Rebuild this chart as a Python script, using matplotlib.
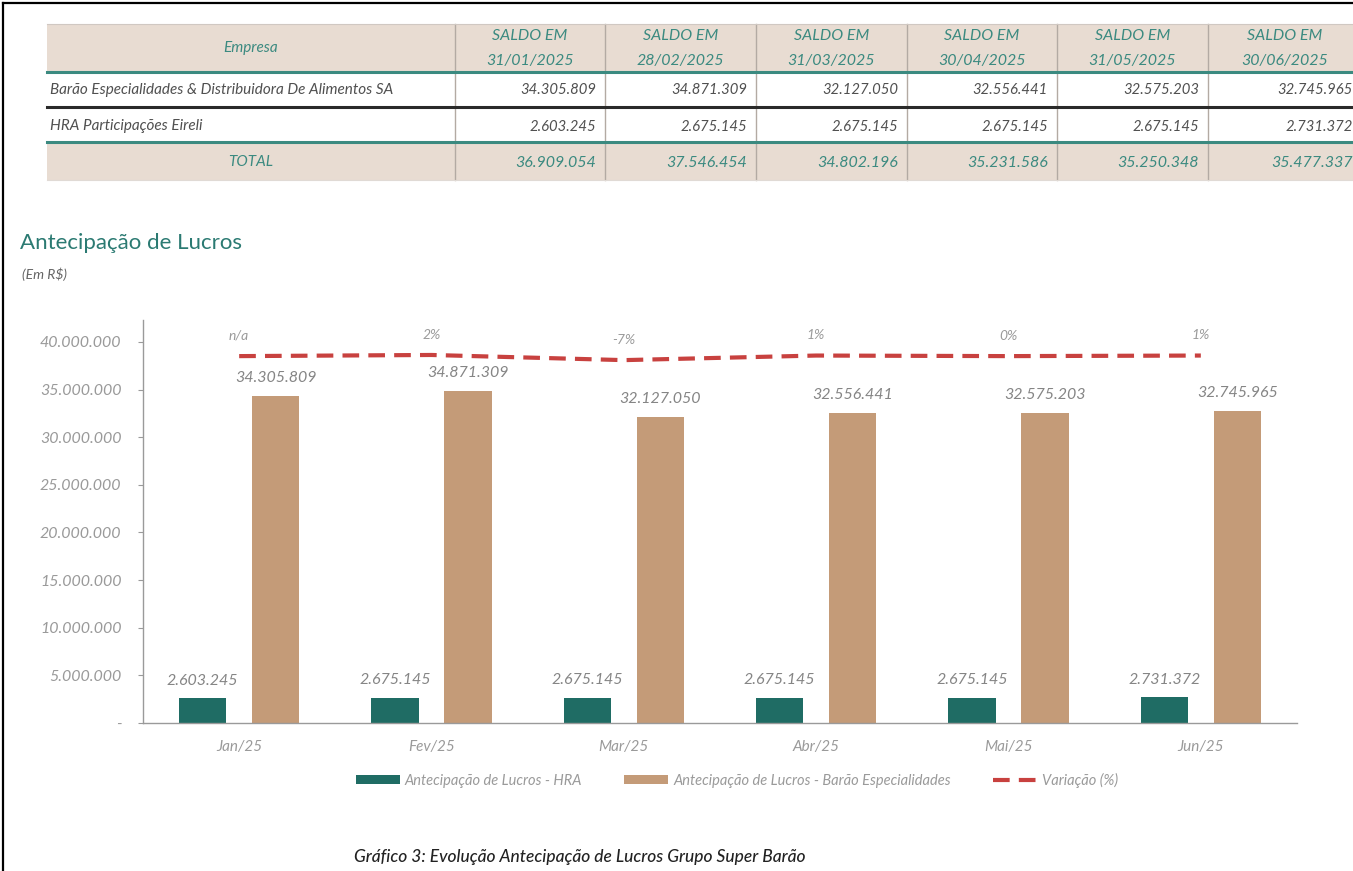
#plot.py
#antecipacao de lucros - table + bar chart
import matplotlib
matplotlib.use("Agg")
import matplotlib.pyplot as plt
from matplotlib.patches import Rectangle
import numpy as np

plt.rcParams['font.family'] = ['Lato', 'DejaVu Sans']

#data
meses = ["Jan/25", "Fev/25", "Mar/25", "Abr/25", "Mai/25", "Jun/25"]
datas = ["31/01/2025", "28/02/2025", "31/03/2025", "30/04/2025", "31/05/2025", "30/06/2025"]
empresas = ["Barão Especialidades & Distribuidora De Alimentos SA", "HRA Participações Eireli"]
barao = [34305809, 34871309, 32127050, 32556441, 32575203, 32745965]
hra = [2603245, 2675145, 2675145, 2675145, 2675145, 2731372]
total = [36909054, 37546454, 34802196, 35231586, 35250348, 35477337]
variacao = [0, 2, -7, 1, 0, 1]
variacao_txt = ["n/a", "2%", "-7%", "1%", "0%", "1%"]
y_ticks = [0, 5000000, 10000000, 15000000, 20000000, 25000000, 30000000, 35000000, 40000000]

#colors
TEAL = "#1f6c64"
TAN = "#c49b78"
RED = "#c8413f"
BEIGE = "#e8dcd2"
TXT_TEAL = "#3b8a80"
GREY = "#9a9a9a"

def fmt(v):
    if v == 0:
        return "-"
    return f"{v:,}".replace(",", ".")

W, H = 1353, 871
fig = plt.figure(figsize=(W / 100, H / 100), dpi=100)

#background axes in pixel coords
bg = fig.add_axes([0, 0, 1, 1])
bg.set_xlim(0, W)
bg.set_ylim(H, 0)
bg.axis("off")

#page border
bg.plot([3, 3], [3, H], color="black", lw=1.6)
bg.plot([3, W], [3, 3], color="black", lw=1.6)

#table
col_edges = [47, 455, 605, 756, 907, 1057, 1208, 1362]
bg.add_patch(Rectangle((47, 24), 1315, 48, facecolor=BEIGE, edgecolor="none"))
bg.add_patch(Rectangle((47, 144), 1315, 36, facecolor=BEIGE, edgecolor="none"))
for x in col_edges[1:-1]:
    bg.plot([x, x], [24, 180], color="#b3aaa3", lw=1)
bg.plot([47, W], [24, 24], color="#d0c8c2", lw=0.8)
bg.plot([47, W], [72.5, 72.5], color=TXT_TEAL, lw=2.2)
bg.plot([47, W], [107.5, 107.5], color="#2a2a2a", lw=2.2)
bg.plot([47, W], [142.5, 142.5], color=TXT_TEAL, lw=2.2)
bg.plot([47, W], [180, 180], color="#e0dad5", lw=0.8)

bg.text((col_edges[0] + col_edges[1]) / 2, 48, "Empresa", ha="center", va="center",
        fontsize=11, style="italic", color=TXT_TEAL)
bg.text((col_edges[0] + col_edges[1]) / 2, 162, "TOTAL", ha="center", va="center",
        fontsize=11, style="italic", color=TXT_TEAL)
bg.text(50, 90, empresas[0], ha="left", va="center", fontsize=11, style="italic",
        color="#505050")
bg.text(50, 126, empresas[1], ha="left", va="center", fontsize=11, style="italic",
        color="#505050")

for i in range(6):
    cx = (col_edges[i + 1] + col_edges[i + 2]) / 2
    xr = col_edges[i + 2] - 9
    bg.text(cx, 36, "SALDO EM", ha="center", va="center", fontsize=11.5,
            style="italic", color=TXT_TEAL)
    bg.text(cx, 61, datas[i], ha="center", va="center", fontsize=11.5,
            style="italic", color=TXT_TEAL)
    bg.text(xr, 90, fmt(barao[i]), ha="right", va="center", fontsize=10.7,
            style="italic", color="#505050")
    bg.text(xr, 127, fmt(hra[i]), ha="right", va="center", fontsize=10.7,
            style="italic", color="#505050")
    bg.text(xr, 163, fmt(total[i]), ha="right", va="center", fontsize=11.5,
            style="italic", color=TXT_TEAL)

#section title
bg.text(20, 243, "Antecipação de Lucros", ha="left", va="center", fontsize=16,
        color="#2b7a72")
bg.text(22, 274, "(Em R$)", ha="left", va="center", fontsize=10,
        style="italic", color="#666666")

#caption
bg.text(354, 857, "Gráfico 3: Evolução Antecipação de Lucros Grupo Super Barão",
        ha="left", va="center", fontsize=12.5, style="italic", weight="medium",
        color="#222222")

#chart
ax = fig.add_axes([143 / W, 1 - 723 / H, (1297 - 143) / W, (723 - 320) / H])
x = np.arange(len(meses))
bw = 0.245
off = 0.19
b1 = ax.bar(x - off, hra, bw, color=TEAL, label="Antecipação de Lucros - HRA")
b2 = ax.bar(x + off, barao, bw, color=TAN,
            label="Antecipação de Lucros - Barão Especialidades")
ax.set_xlim(-0.5, len(meses) - 0.5)
ax.set_ylim(0, 42300000)
ax.set_yticks(y_ticks)
ax.set_yticklabels([fmt(v) for v in y_ticks])
ax.set_xticks(x)
ax.set_xticklabels(meses)
for s in ["top", "right"]:
    ax.spines[s].set_visible(False)
for s in ["left", "bottom"]:
    ax.spines[s].set_color("#9a9a9a")
    ax.spines[s].set_linewidth(1)
ax.tick_params(axis="y", length=3.5, color="#9a9a9a", labelsize=11.5,
               labelcolor=GREY, pad=12)
ax.tick_params(axis="x", length=0, labelsize=11, labelcolor=GREY, pad=12)
for lab in ax.get_xticklabels() + ax.get_yticklabels():
    lab.set_style("italic")

#bar labels
for i in range(len(meses)):
    ax.annotate(fmt(barao[i]), (x[i] + off, barao[i]), xytext=(0, 13),
                textcoords="offset points", ha="center", va="center",
                fontsize=11.5, style="italic", color="#858585")
    ax.annotate(fmt(hra[i]), (x[i] - off, hra[i]), xytext=(0, 12.5),
                textcoords="offset points", ha="center", va="center",
                fontsize=11.5, style="italic", color="#858585")

#variation line on hidden secondary axis
ax2 = ax.twinx()
ax2.set_ylim(-640, 63)
ax2.axis("off")
ln, = ax2.plot(x, variacao, color=RED, lw=3, dashes=(4, 2.2),
               label="Variação (%)")
for i in range(len(meses)):
    ax2.annotate(variacao_txt[i], (x[i], variacao[i]), xytext=(0, 14.5),
                 textcoords="offset points", ha="center", va="center",
                 fontsize=10, style="italic", color=GREY)

#legend
fig.legend(handles=[b1, b2, ln], loc="center", bbox_to_anchor=(737 / W, 1 - 780 / H),
           ncol=3, frameon=False, handlelength=3, handleheight=0.6,
           columnspacing=2.9, handletextpad=0.35, labelcolor=GREY,
           prop={"style": "italic", "size": 10.5})

fig.savefig("out.png", dpi=100)
